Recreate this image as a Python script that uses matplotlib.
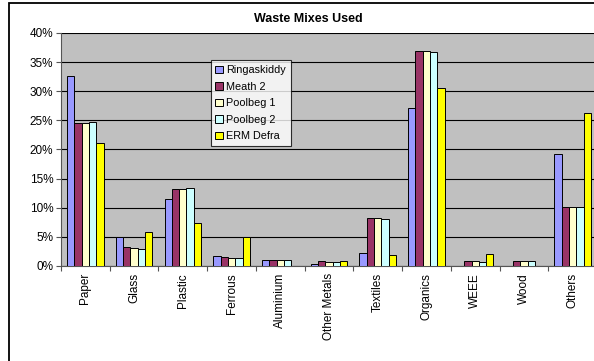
import numpy as np
from matplotlib import pyplot as plt
from matplotlib.patches import Rectangle
from matplotlib.ticker import FuncFormatter, FixedLocator

plt.rcParams['font.family'] = ['Liberation Sans', 'DejaVu Sans']

categories = ['Paper', 'Glass', 'Plastic', 'Ferrous', 'Aluminium', 'Other Metals',
              'Textiles', 'Organics', 'WEEE', 'Wood', 'Others']
series_names = ['Ringaskiddy', 'Meath 2', 'Poolbeg 1', 'Poolbeg 2', 'ERM Defra']
ringaskiddy = [32.6, 4.9, 11.5, 1.8, 1.0, 0.4, 2.2, 27.2, 0.0, 0.0, 19.3]
meath2 = [24.6, 3.2, 13.3, 1.5, 1.1, 0.8, 8.2, 36.9, 0.8, 0.9, 10.1]
poolbeg1 = [24.6, 3.1, 13.3, 1.4, 1.1, 0.7, 8.2, 36.9, 0.8, 0.9, 10.1]
poolbeg2 = [24.7, 3.0, 13.4, 1.4, 1.1, 0.7, 8.1, 36.8, 0.7, 0.8, 10.1]
erm_defra = [21.1, 5.9, 7.4, 4.9, 0.0, 0.8, 1.9, 30.6, 2.1, 0.0, 26.2]
bar_colors = ['#9999FF', '#993366', '#FFFFCC', '#CCFFFF', '#FFFF00']

all_series = [ringaskiddy, meath2, poolbeg1, poolbeg2, erm_defra]

fig = plt.figure(figsize=(5.94, 3.61), dpi=100)
ax = fig.add_axes([61/594, 1-266/361, 536/594, 233/361])
ax.set_facecolor('#C0C0C0')

x = np.arange(len(categories))
w = 0.15
for i, (vals, name, col) in enumerate(zip(all_series, series_names, bar_colors)):
    ax.bar(x + (i - 2) * w, vals, width=w, color=col, edgecolor='black',
           linewidth=0.7, label=name, zorder=3)

ax.set_xlim(-0.5, len(categories) - 0.5)
ax.set_ylim(0, 40)
ax.set_yticks(np.arange(0, 41, 5))
ax.yaxis.set_major_formatter(FuncFormatter(lambda v, p: '%d%%' % v))
ax.grid(axis='y', color='black', linewidth=0.8, zorder=1)
ax.set_axisbelow(True)

ax.set_xticks(x)
ax.set_xticklabels(categories, rotation=90, fontsize=8.5)
ax.xaxis.set_minor_locator(FixedLocator(np.arange(-0.5, len(categories), 1)))
ax.tick_params(axis='x', which='major', length=0, pad=5)
ax.tick_params(axis='x', which='minor', length=3.5, width=0.8, color='#555555')
ax.tick_params(axis='y', labelsize=8.5, length=3.5, width=0.8, color='#555555', pad=2)

for s in ['top', 'right']:
    ax.spines[s].set_visible(False)
ax.spines['left'].set_color('#555555')
ax.spines['bottom'].set_color('#555555')

leg = ax.legend(loc='upper left', bbox_to_anchor=(0.279, 0.882), fontsize=7.8,
                frameon=True, fancybox=False, borderpad=0.45, labelspacing=0.6,
                handlelength=0.7, handleheight=0.7, handletextpad=0.3,
                borderaxespad=0)
leg.get_frame().set_edgecolor('black')
leg.get_frame().set_linewidth(0.8)

fig.text(308/594, 1-19/361, 'Waste Mixes Used', ha='center', va='center',
         fontsize=9, fontweight='bold')

# outer chart border
fig.patches.append(Rectangle((9/594, -0.1), 1.2, 1 - 3/361 + 0.1,
                             transform=fig.transFigure, fill=False,
                             edgecolor='black', linewidth=1.3))

fig.savefig('out.png', dpi=100)
